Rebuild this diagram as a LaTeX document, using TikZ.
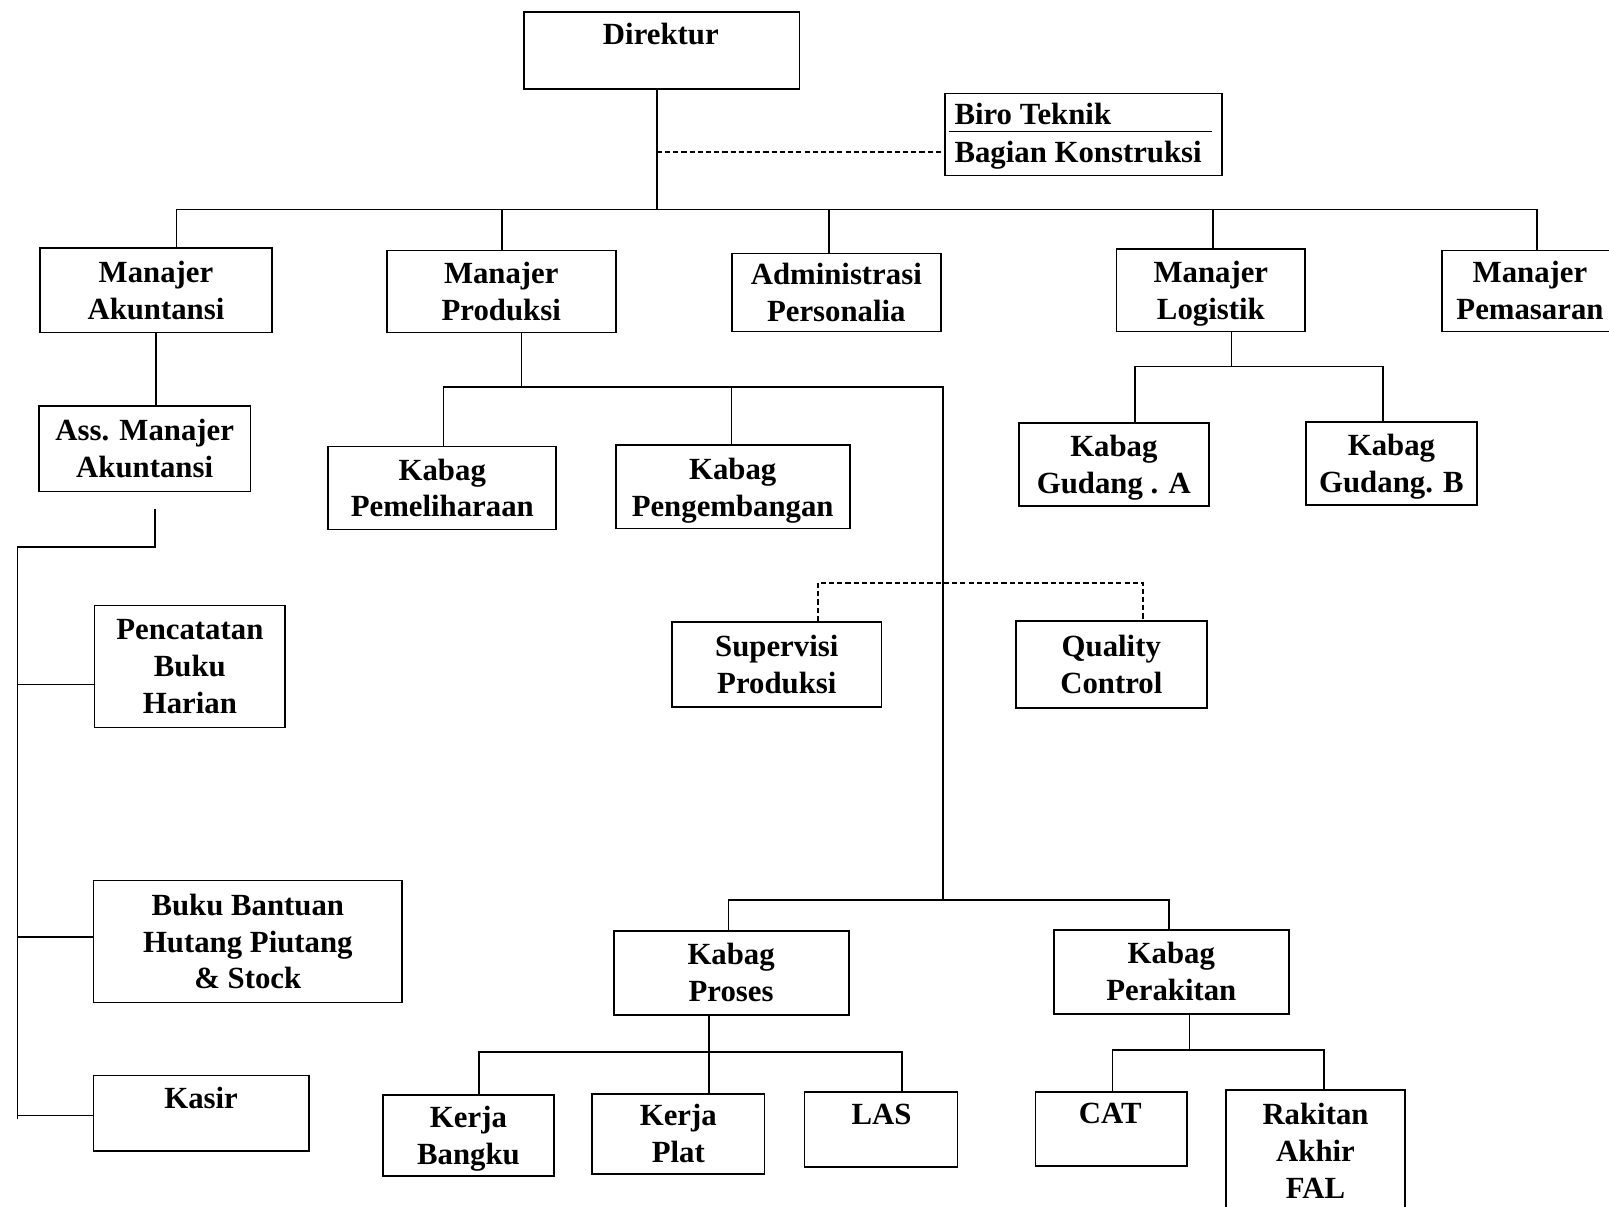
\documentclass[tikz,border=0pt]{standalone}
\usepackage{fontspec}
\setmainfont{Liberation Serif}
\newcommand\fnt{\bfseries\fontsize{30}{36}\selectfont}
\newcommand\nd[1]{\raisebox{0pt}[\height][0pt]{#1}}
\newcommand\mkbox[6]{\node[box, minimum width={(#4-#2)*1pt}, minimum height={(#5-#3)*1pt}] (#1) at ({(#2+#4)/2},{(#3+#5)/2}) {#6};}
\begin{document}
\begin{tikzpicture}[x=1pt,y=-1pt,
  box/.style={draw, line width=1.7pt, inner sep=0pt, align=center, font=\fnt},
  txt/.style={inner sep=0pt, align=center, font=\fnt},
  conn/.style={line width=1.5pt},
  dashline/.style={line width=1.4pt, dash pattern=on 5pt off 3pt}]
\useasboundingbox (0,0) rectangle (1568,1176);
\fill[white] (0,0) rectangle (1568,1176);
\clip (0,0) rectangle (1568,1176);

% boxes
\mkbox{dir}{511}{12}{779}{87}{}
\node[txt, anchor=base] (dirT) at (644,43) {Direktur};
\mkbox{biro}{921}{91}{1191}{171}{}
\coordinate (bl1) at (925,128);
\coordinate (bl2) at (1181,128);
\draw[line width=1.4pt] (bl1) -- (bl2);
\node[txt, anchor=base west] (biroT) at (930,121) {Biro Teknik};
\node[txt, anchor=base west] (bagT) at (930,158) {Bagian Konstruksi};

\mkbox{makun}{39}{242}{265}{324}{Manajer\\Akuntansi}
\mkbox{mprod}{377}{244}{600}{324}{Manajer\\Produksi}
\mkbox{adm}{713}{247}{917}{323}{Administrasi\\Personalia}
\mkbox{mlog}{1088}{243}{1272}{323}{Manajer\\\nd{Logistik}}
\mkbox{mpem}{1405}{244}{1577}{323}{Manajer\\Pemasaran}

\mkbox{ass}{38}{396}{244}{479}{Ass. Manajer\\Akuntansi}
\mkbox{pbh}{92}{590}{278}{709}{Pencatatan\\Buku\\Harian}
\mkbox{bbh}{91}{858}{392}{977}{Buku Bantuan\\Hutang Piutang\\\& Stock}
\mkbox{kas}{91}{1048}{301}{1122}{}
\node[txt, anchor=base] (kasT) at (196,1080) {Kasir};

\mkbox{kpem}{320}{435}{542}{516}{Kabag\\Pemeliharaan}
\mkbox{kpeng}{600}{434}{828}{515}{Kabag\\\nd{Pengembangan}}
\mkbox{guda}{993}{412}{1178}{493}{Kabag\\\nd{Gudang . A}}
\mkbox{gudb}{1273}{411}{1439}{492}{Kabag\\\nd{Gudang. B}}

\mkbox{sup}{655}{606}{859}{689}{Supervisi\\Produksi}
\mkbox{qc}{990}{605}{1176}{690}{Quality\\Control}

\mkbox{kpros}{598}{907}{827}{989}{Kabag\\Proses}
\mkbox{kper}{1027}{906}{1256}{988}{Kabag\\Perakitan}

\mkbox{kbang}{373}{1067}{540}{1146}{Kerja\\\nd{Bangku}}
\mkbox{kplat}{577}{1066}{745}{1144}{Kerja\\Plat}
\mkbox{las}{784}{1064}{933}{1137}{}
\node[txt, anchor=base] (lasT) at (859,1096) {LAS};
\mkbox{cat}{1009}{1064}{1157}{1136}{}
\node[txt, anchor=base] (catT) at (1082,1095) {CAT};
\mkbox{rak}{1195}{1062}{1369}{1210}{}
\node[txt, anchor=north] (rakT) at (1282,1075) {Rakitan\\Akhir\\FAL};

% Direktur connectors
\coordinate (jd) at (640,204);
\coordinate (jb) at (640,148);
\draw[conn] (jd |- dir.south) -- (jd);
\draw[dashline] (jb) -- (jb -| biro.west);
\coordinate (b1) at (172,204);
\coordinate (b2) at (489,204);
\coordinate (b3) at (808,204);
\coordinate (b4) at (1182,204);
\coordinate (b5) at (1498,204);
\draw[conn] (b1) -- (b5);
\draw[conn] (b1) -- (b1 |- makun.north);
\draw[conn] (b2) -- (b2 |- mprod.north);
\draw[conn] (b3) -- (b3 |- adm.north);
\draw[conn] (b4) -- (b4 |- mlog.north);
\draw[conn] (b5) -- (b5 |- mpem.north);

% Akuntansi
\coordinate (a1) at (152,324);
\draw[conn] (a1 |- makun.south) -- (a1 |- ass.north);
\coordinate (a2) at (151,496);
\coordinate (a3) at (151,533);
\coordinate (a4) at (17,533);
\coordinate (a5) at (17,1090);
\draw[conn] (a2) -- (a3) -- (a4) -- (a5);
\coordinate (l1) at (17,667);
\coordinate (l2) at (17,913);
\coordinate (l3) at (17,1087);
\draw[conn] (l1) -- (l1 -| pbh.west);
\draw[conn] (l2) -- (l2 -| bbh.west);
\draw[conn] (l3) -- (l3 -| kas.west);

% Produksi
\coordinate (p1) at (508,377);
\coordinate (p0) at (432,377);
\coordinate (p2) at (713,377);
\coordinate (p3) at (919,377);
\coordinate (p4) at (919,877);
\coordinate (p5) at (710,877);
\coordinate (p6) at (1139,877);
\draw[conn] (p1 |- mprod.south) -- (p1);
\draw[conn] (p0 |- kpem.north) -- (p0) -- (p3) -- (p4);
\draw[conn] (p2) -- (p2 |- kpeng.north);
\draw[conn] (p5 |- kpros.north) -- (p5) -- (p6) -- (p6 |- kper.north);

% dashed staff
\coordinate (q1) at (797,568);
\coordinate (q2) at (1114,568);
\draw[dashline] (q1 |- sup.north) -- (q1) -- (q2) -- (q2 |- qc.north);

% Proses
\coordinate (r1) at (691,1025);
\coordinate (r0) at (467,1025);
\coordinate (r2) at (879,1025);
\draw[conn] (r1 |- kpros.south) -- (r1 |- kplat.north);
\draw[conn] (r0 |- kbang.north) -- (r0) -- (r2) -- (r2 |- las.north);

% Perakitan
\coordinate (s1) at (1159,1023);
\coordinate (s0) at (1084,1023);
\coordinate (s2) at (1290,1023);
\draw[conn] (s1 |- kper.south) -- (s1);
\draw[conn] (s0 |- cat.north) -- (s0) -- (s2) -- (s2 |- rak.north);

% Logistik
\coordinate (g1) at (1200,357);
\coordinate (g0) at (1106,357);
\coordinate (g2) at (1348,357);
\draw[conn] (g1 |- mlog.south) -- (g1);
\draw[conn] (g0 |- guda.north) -- (g0) -- (g2) -- (g2 |- gudb.north);
\end{tikzpicture}
\end{document}
